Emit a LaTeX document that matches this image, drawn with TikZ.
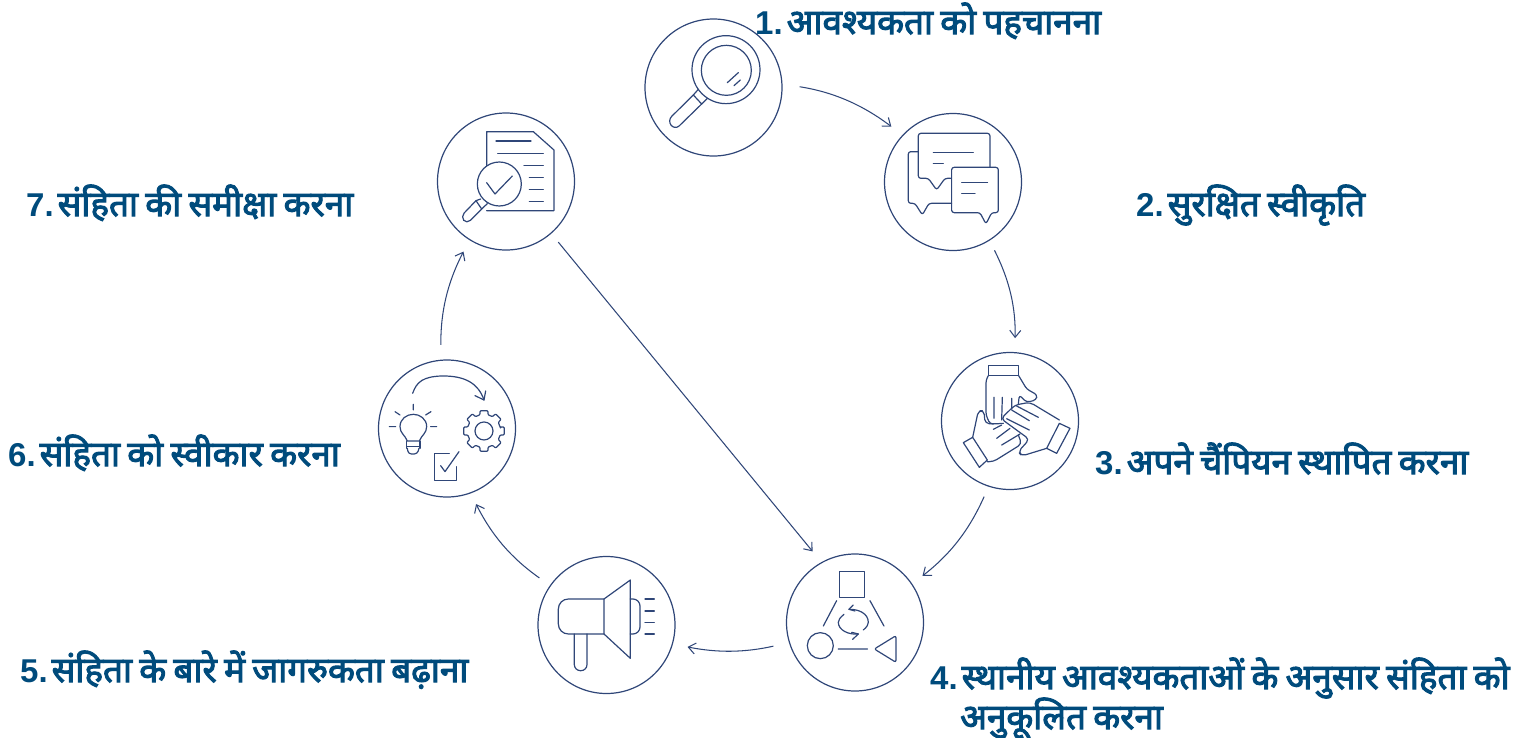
\documentclass[tikz,border=0pt]{standalone}
\usepackage{fontspec}
\setmainfont[Script=Devanagari,FakeBold=2.9,WordSpace=0.8]{Noto Sans}
\newfontfamily\digfont{Liberation Sans}
\newcommand{\numlab}[1]{{\digfont\bfseries\fontsize{33}{38}\selectfont #1.}\hspace{4pt}}
\usetikzlibrary{arrows.meta,calc}
\definecolor{ink}{HTML}{2F4678}
\definecolor{lab}{HTML}{004B7C}
\tikzset{
  ring/.style={circle,draw=ink,line width=1.2pt,minimum size=137pt,inner sep=0pt,outer sep=0pt},
  conn/.style={draw=ink,line width=1.05pt,-{Straight Barb[length=7pt,width=11pt,line width=1.05pt]}},
  lbl/.style={anchor=base west,inner sep=0pt,text=lab,font=\fontsize{35}{40}\selectfont},
  ico/.style={draw=ink,line width=1.2pt,line join=round,line cap=round},
  zoomed/.style 2 args={shift={(#1,#2)},x=0.3333pt,y=-0.3333pt}
}
\begin{document}
\begin{tikzpicture}[x=1pt,y=-1pt]
\useasboundingbox (0,0) rectangle (1533,737);
\node[ring] (c1) at (713.5,87.5) {};
\node[ring] (c2) at (953,182) {};
\node[ring] (c3) at (1010,421) {};
\node[ring] (c4) at (855,622.5) {};
\node[ring] (c5) at (606.5,625) {};
\node[ring] (c6) at (447,428.5) {};
\node[ring] (c7) at (506,181.5) {};
% connectors
\draw[conn,shorten <=18pt,shorten >=14.5pt] (c1.3) to[bend left=14] (c2.137);
\draw[conn,shorten <=11.5pt,shorten >=14.5pt] (c2.-58) to[bend left=14] (c3.86);
\draw[conn,shorten <=11.5pt,shorten >=13.5pt] (c3.-108) to[bend left=14] (c4.34);
\draw[conn,shorten <=16.5pt,shorten >=15.5pt] (c4.197.5) to[bend left=12] (c5.-16.5);
\draw[conn,shorten <=13.5pt,shorten >=12.5pt] (c5.145) to[bend left=14] (c6.-70.5);
\draw[conn,shorten <=15.5pt,shorten >=13.5pt] (c6.95.5) to[bend left=14] (c7.-122.5);
\draw[conn,shorten <=11.5pt,shorten >=14.5pt] (c7.-49.3) -- (c4.119);
% labels
\node[lbl] (t1) at (755,34) {\numlab{1}आवश्यकता को पहचानना};
\node[lbl] (t2) at (1136,216) {\numlab{2}सुरक्षित स्वीकृति};
\node[lbl] (t3) at (1095,474) {\numlab{3}अपने चैंपियन स्थापित करना};
\node[lbl] (t4) at (930,689) {\numlab{4}स्थानीय आवश्यकताओं के अनुसार संहिता को};
\node[lbl] (t4b) at (960,729) {अनुकूलित करना};
\node[lbl] (t5) at (20,682) {\numlab{5}संहिता के बारे में जागरुकता बढ़ाना};
\node[lbl] (t6) at (8,466) {\numlab{6}संहिता को स्वीकार करना};
\node[lbl] (t7) at (26,216) {\numlab{7}संहिता की समीक्षा करना};
% icon 1
\begin{scope}[zoomed={630}{0}]
\draw[ico] (288,209) circle[radius=102];
\draw[ico] (289,211) circle[radius=75];
\draw[ico] (292,248)--(325,218) (312,257)--(331,240);
\draw[ico] (205,268)--(190,285) (232,295)--(215,312) (190,285)--(215,312);
\draw[ico,rounded corners=6pt] (190,285)--(112,362)--(135,390)--(215,312);
% icon 2
\draw[ico,rounded corners=2.5pt] (962,535)--(945,535)--(920,570)--(895,535)--(865,535)--(865,400)--(1080,400)--(1080,502);
\draw[ico,rounded corners=2.5pt] (865,455)--(835,455)--(835,610)--(855,610)--(877,645)--(897,610)--(965,610);
\draw[ico,rounded corners=2.5pt] (965,502)--(1105,502)--(1105,638)--(1085,638)--(1068,672)--(1050,638)--(965,638)--cycle;
\draw[ico] (910,458)--(1030,458) (910,490)--(940,490) (995,548)--(1073,548) (995,581)--(1035,581);
\end{scope}
% icon 3
\begin{scope}[zoomed={930}{340}]
\draw[ico] (175,77) rectangle (266,107);
\draw[ico,rounded corners=3pt] (175,107)--(168,120)--(168,225)--(180,252)--(190,252);
\draw[ico,rounded corners=3pt] (266,107)--(290,147)--(322,165)--(318,180)--(290,187)--(268,165)--(265,192);
\draw[ico] (192,172)--(192,235) (217,172)--(215,240) (245,175)--(245,207);
\draw[ico] (388,250)--(420,265)--(380,340)--(350,325)--cycle;
\draw[ico,rounded corners=4pt] (388,240)--(300,187)--(255,195)--(213,236)--(298,298)--(265,335)--(275,348)--(350,325);
\draw[ico] (258,197)--(325,232) (245,210)--(298,242) (230,236)--(298,270);
\draw[ico] (100,308)--(128,292)--(172,360)--(148,382)--cycle;
\draw[ico,rounded corners=4pt] (128,292)--(145,212)--(162,212)--(165,250)--(190,252)--(220,250);
\draw[ico,rounded corners=4pt] (172,365)--(190,365)--(275,312)--(265,285);
\draw[ico] (200,295)--(240,265) (215,315)--(270,282) (190,268)--(215,255);
\end{scope}
% icon 4
\begin{scope}[zoomed={530}{545}]
\draw[ico] (928,80) rectangle (1004,157);
\draw[ico] (920,167)--(880,243) (1020,167)--(1062,243) (925,312)--(1013,312);
\draw[ico] (871,302) circle[radius=39];
\draw[ico,rounded corners=2pt] (1098,272)--(1098,352)--(1033,312)--cycle;
\draw[ico] (1000,255) .. controls (1012,245) and (1015,238) .. (1015,232) .. controls (1015,205) and (985,192) .. (957,193);
\draw[ico] (970,180)--(957,193)--(975,198);
\draw[ico] (942,208) .. controls (930,218) and (925,225) .. (925,232) .. controls (925,255) and (955,270) .. (985,267);
\draw[ico] (968,283)--(985,267)--(965,262);
% icon 5
\draw[ico] (222,162)--(301,105)--(301,340)--(222,267)--cycle;
\draw[ico,rounded corners=10pt] (222,162)--(85,162)--(85,267)--(222,267);
\draw[ico,rounded corners=7pt] (301,162)--(330,162)--(330,267)--(301,267);
\draw[ico] (345,162)--(373,162) (345,198)--(373,198) (345,232)--(373,232) (345,267)--(373,267);
\draw[ico,rounded corners=6pt] (133,267)--(133,377)--(171,377)--(171,267);
\end{scope}
% icons 6 and 7
\begin{scope}[zoomed={370}{105}]
\draw[ico] (112,1008) .. controls (105,990) and (90,985) .. (90,965) .. controls (90,942) and (110,928) .. (130,928) .. controls (150,928) and (170,942) .. (170,965) .. controls (170,985) and (155,990) .. (148,1008) -- cycle;
\draw[ico] (110,1008)--(110,1030) (150,1008)--(150,1030) (110,1025)--(150,1025);
\draw[ico,rounded corners=3pt] (112,1030)--(115,1047)--(142,1047)--(147,1030);
\draw[ico] (130,898)--(130,915) (75,920)--(90,930) (183,920)--(167,930) (58,965)--(77,965) (182,965)--(200,965);
\draw[ico] (128,865) .. controls (140,830) and (160,815) .. (215,813) .. controls (285,812) and (325,835) .. (342,885);
\draw[ico] (315,872)--(342,885)--(347,858);
\draw[ico] (342,978) circle[radius=27];
\begin{scope}[shift={(342,978)}]
\draw[ico,rounded corners=1pt] (-12:50) \foreach \a in {0,45,...,315} { -- (\a-14:50) -- (\a-11:62) -- (\a+11:62) -- (\a+14:50) } -- cycle;
\end{scope}
\draw[ico] (238,1045)--(193,1045)--(193,1127)--(260,1127)--(260,1085);
\draw[ico] (212,1082)--(225,1100)--(267,1040);
\draw[ico] (350,290)--(350,80)--(490,80)--(552,135)--(552,317)--(350,317);
\draw[ico] (378,108)--(483,108) (383,145)--(520,145) (462,181)--(520,181) (478,217)--(520,217) (478,253)--(520,253) (478,289)--(520,289);
\draw[ico,fill=white] (388,237) circle[radius=66];
\draw[ico] (350,233)--(375,267)--(427,213);
\draw[ico] (332,282)--(318,287) (352,296)--(335,312) (318,287)--(335,312);
\draw[ico,rounded corners=5pt] (318,287)--(272,335)--(290,357)--(335,312);
\end{scope}
\end{tikzpicture}
\end{document}
